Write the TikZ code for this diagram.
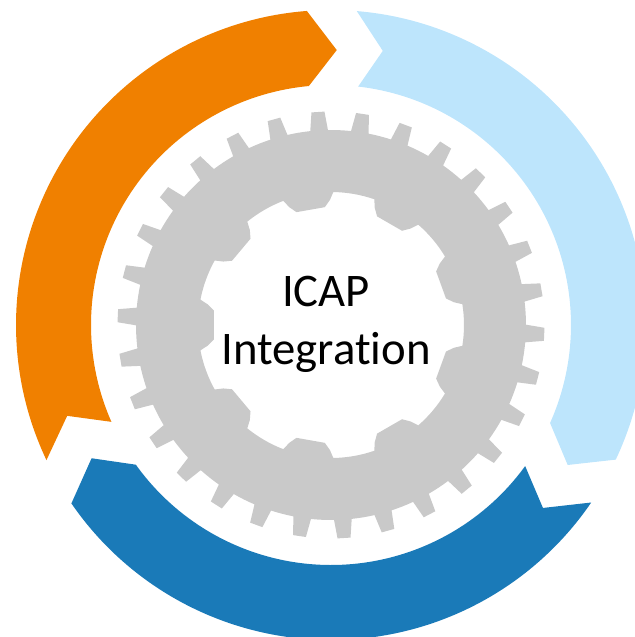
\documentclass[tikz,border=0pt]{standalone}
\usepackage{fontspec}
\setmainfont[Ligatures=NoCommon]{Carlito}
\definecolor{bandorange}{HTML}{F08000}
\definecolor{bandsky}{HTML}{BDE5FC}
\definecolor{bandblue}{HTML}{1A7AB8}
\definecolor{geargray}{HTML}{C9C9C9}
\tikzset{
	gear/.pic = {
		\fill [geargray, even odd rule] (91:195)
			\foreach \a in {93.5,105.5,...,441.5} {
				-- ({\a-2.6}:195) -- ({\a-1.75}:213.5) -- ({\a+1.75}:213.5) -- ({\a+2.6}:195)
				arc [start angle=\a+2.6, delta angle=6.8, radius=195]
			} -- cycle
			(89:133)
			\foreach \b in {100,140,...,420} {
				-- ({\b-11}:133) -- ({\b-9.5}:125) -- ({\b-7}:118) -- ({\b+7}:118) -- ({\b+9.5}:125) -- ({\b+11}:133)
				arc [start angle=\b+11, delta angle=18, radius=133]
			} -- cycle;
	}
}
\tikzstyle{title} = [align=center, font=\fontsize{26.6}{32.9}\selectfont]

\begin{document}
\begin{tikzpicture}[x=0.02cm, y=0.02cm]

		\clip [use as bounding box] (-331,-312) rectangle (304,325);

		\fill [bandorange] (205.4:315) -- (199:279) -- (203.8:240) arc [start angle=203.8, end angle=95.3, radius=240]
			-- (88.8:275) -- (94.4:315) arc [start angle=94.4, end angle=205.4, radius=315] -- cycle;

		\fill [bandsky] (85.3:315) -- (79.3:279) -- (83.5:240) arc [start angle=83.5, end angle=-24.1, radius=240]
			-- (-30.6:275) -- (-25.3:315) arc [start angle=-25.3, end angle=85.3, radius=315] -- cycle;

		\fill [bandblue] (-34.3:315) -- (-40.8:280) -- (-36:240) arc [start angle=-36, end angle=-144.4, radius=240]
			-- (209.1:274) -- (214.5:315) arc [start angle=214.5, end angle=325.7, radius=315] -- cycle;

		\path (0,0) pic{gear};

		\node [title] (label) at (-5,1) {ICAP\\Integration};

	\end{tikzpicture}
\end{document}
